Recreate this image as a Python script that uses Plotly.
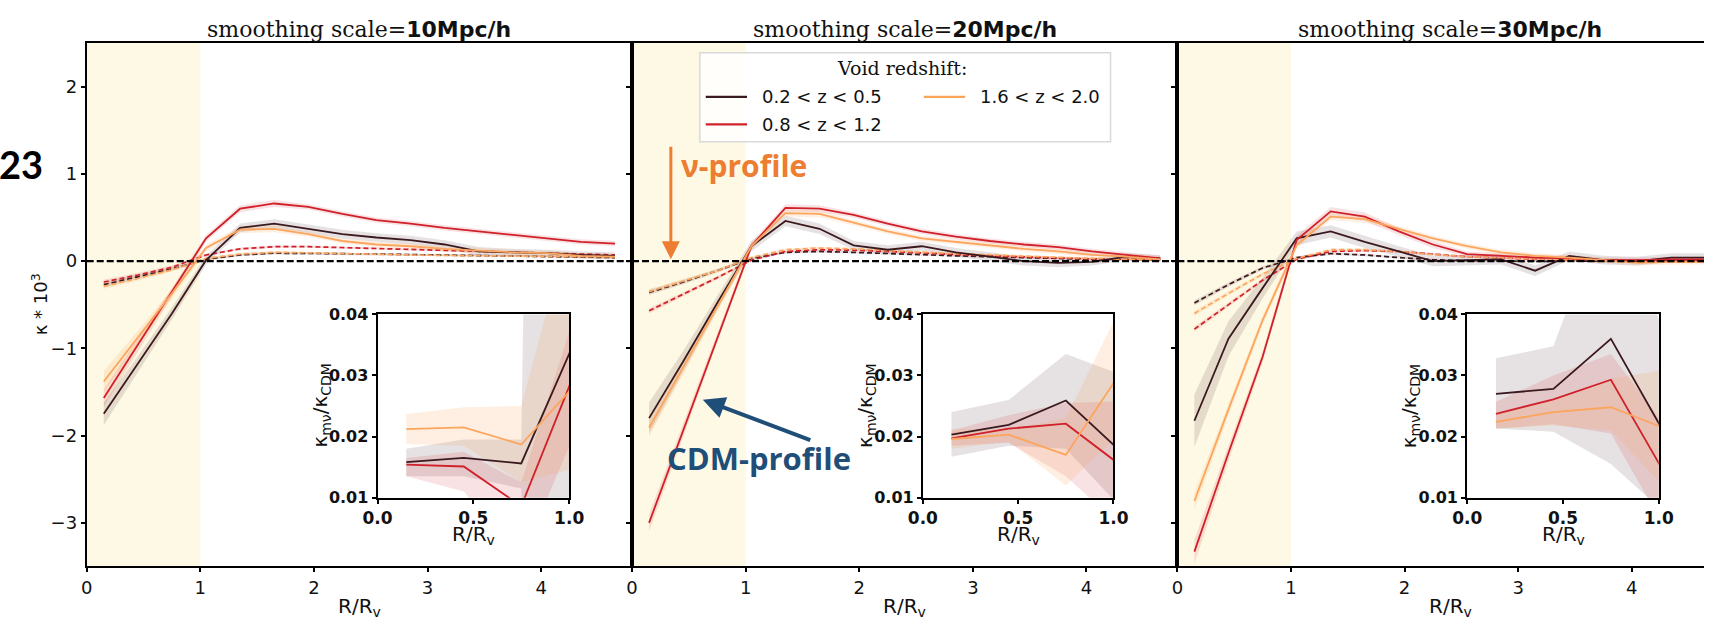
import plotly.graph_objects as go

W, H = 1719, 623

# ---------------------------------------------------------------- data
r_bins = [0.15, 0.45, 0.75, 1.05, 1.35, 1.65, 1.95, 2.25, 2.55, 2.85, 3.15, 3.45, 3.75, 4.05, 4.35, 4.65]
inset_bins = [0.15, 0.45, 0.75, 1.05]

scale_labels = ["10Mpc/h", "20Mpc/h", "30Mpc/h"]
z_labels = ["0.2 < z < 0.5", "0.8 < z < 1.2", "1.6 < z < 2.0"]
z_colors = ["#3b1a1f", "#d0202a", "#fca55d"]
z_bands = ["rgba(59,26,31,0.13)", "rgba(208,32,42,0.13)", "rgba(252,165,93,0.18)"]

# kappa * 1e3, CDM profiles (solid)
cdm_s10_z1 = [-1.75, -1.18, -0.60, 0.01, 0.38, 0.43, 0.37, 0.31, 0.27, 0.24, 0.19, 0.11, 0.10, 0.09, 0.07, 0.06]
cdm_s10_z2 = [-1.57, -0.96, -0.36, 0.26, 0.60, 0.66, 0.62, 0.54, 0.47, 0.43, 0.38, 0.34, 0.30, 0.26, 0.22, 0.20]
cdm_s10_z3 = [-1.38, -0.88, -0.37, 0.15, 0.36, 0.37, 0.31, 0.23, 0.19, 0.17, 0.14, 0.12, 0.10, 0.09, 0.06, 0.05]
cdm_s20_z1 = [-1.80, -1.15, -0.48, 0.17, 0.46, 0.37, 0.18, 0.13, 0.17, 0.10, 0.05, 0.00, -0.02, -0.01, 0.05, 0.03]
cdm_s20_z2 = [-3.00, -1.94, -0.88, 0.17, 0.61, 0.60, 0.53, 0.43, 0.34, 0.28, 0.23, 0.19, 0.16, 0.11, 0.07, 0.03]
cdm_s20_z3 = [-1.91, -1.22, -0.53, 0.17, 0.55, 0.54, 0.44, 0.34, 0.26, 0.22, 0.18, 0.14, 0.11, 0.07, 0.05, 0.02]
cdm_s30_z1 = [-1.83, -0.89, -0.31, 0.26, 0.34, 0.22, 0.11, 0.00, 0.01, 0.02, -0.11, 0.06, 0.01, 0.00, 0.04, 0.04]
cdm_s30_z2 = [-3.33, -2.20, -1.10, 0.24, 0.57, 0.51, 0.34, 0.19, 0.08, 0.06, 0.04, 0.03, 0.01, 0.01, 0.02, 0.02]
cdm_s30_z3 = [-2.75, -1.70, -0.68, 0.18, 0.51, 0.48, 0.37, 0.26, 0.17, 0.10, 0.06, 0.04, 0.01, -0.02, -0.01, -0.01]

# 1-sigma half widths of the CDM profiles
err_s10_z1 = [0.13, 0.09, 0.07, 0.05, 0.05, 0.05, 0.05, 0.05, 0.05, 0.05, 0.05, 0.05, 0.04, 0.04, 0.04, 0.04]
err_s10_z2 = [0.10, 0.07, 0.05, 0.04, 0.04, 0.04, 0.03, 0.03, 0.03, 0.03, 0.03, 0.03, 0.03, 0.03, 0.03, 0.03]
err_s10_z3 = [0.12, 0.08, 0.05, 0.04, 0.04, 0.04, 0.03, 0.03, 0.03, 0.03, 0.03, 0.03, 0.03, 0.03, 0.03, 0.03]
err_s20_z1 = [0.18, 0.12, 0.08, 0.06, 0.06, 0.06, 0.05, 0.05, 0.05, 0.05, 0.05, 0.05, 0.05, 0.04, 0.04, 0.04]
err_s20_z2 = [0.10, 0.07, 0.05, 0.04, 0.04, 0.04, 0.03, 0.03, 0.03, 0.03, 0.03, 0.03, 0.03, 0.03, 0.03, 0.03]
err_s20_z3 = [0.10, 0.07, 0.05, 0.04, 0.04, 0.04, 0.03, 0.03, 0.03, 0.03, 0.03, 0.03, 0.03, 0.03, 0.03, 0.03]
err_s30_z1 = [0.30, 0.20, 0.12, 0.08, 0.07, 0.07, 0.06, 0.06, 0.06, 0.06, 0.06, 0.05, 0.05, 0.05, 0.05, 0.05]
err_s30_z2 = [0.14, 0.09, 0.06, 0.05, 0.05, 0.05, 0.04, 0.04, 0.03, 0.03, 0.03, 0.03, 0.03, 0.03, 0.03, 0.03]
err_s30_z3 = [0.10, 0.07, 0.05, 0.04, 0.04, 0.04, 0.03, 0.03, 0.03, 0.03, 0.03, 0.03, 0.03, 0.03, 0.03, 0.03]

# kappa * 1e3, massive-neutrino profiles (dashed)
nu_s10_z1 = [-0.27, -0.18, -0.09, 0.02, 0.07, 0.09, 0.09, 0.085, 0.08, 0.075, 0.07, 0.065, 0.06, 0.055, 0.05, 0.04]
nu_s10_z2 = [-0.24, -0.16, -0.07, 0.07, 0.14, 0.165, 0.165, 0.155, 0.145, 0.13, 0.12, 0.11, 0.10, 0.09, 0.08, 0.07]
nu_s10_z3 = [-0.29, -0.20, -0.10, 0.03, 0.08, 0.10, 0.095, 0.085, 0.075, 0.07, 0.065, 0.06, 0.055, 0.05, 0.05, 0.05]
nu_s20_z1 = [-0.36, -0.24, -0.11, 0.03, 0.10, 0.11, 0.10, 0.085, 0.07, 0.06, 0.05, 0.04, 0.03, 0.02, 0.02, 0.015]
nu_s20_z2 = [-0.57, -0.38, -0.19, 0.01, 0.11, 0.13, 0.125, 0.11, 0.09, 0.075, 0.06, 0.045, 0.035, 0.025, 0.02, 0.015]
nu_s20_z3 = [-0.35, -0.23, -0.11, 0.04, 0.13, 0.15, 0.14, 0.12, 0.10, 0.085, 0.07, 0.055, 0.04, 0.03, 0.02, 0.015]
nu_s30_z1 = [-0.48, -0.27, -0.08, 0.04, 0.085, 0.07, 0.04, 0.015, 0.005, 0.0, -0.005, 0.0, 0.0, 0.0, 0.0, 0.0]
nu_s30_z2 = [-0.78, -0.50, -0.22, 0.02, 0.11, 0.12, 0.11, 0.08, 0.05, 0.035, 0.02, 0.015, 0.01, 0.005, 0.0, 0.0]
nu_s30_z3 = [-0.60, -0.37, -0.15, 0.03, 0.13, 0.13, 0.11, 0.075, 0.05, 0.035, 0.025, 0.015, 0.005, 0.0, -0.005, -0.01]
nu_err = [0.03, 0.025, 0.02, 0.015, 0.015, 0.015, 0.012, 0.012, 0.012, 0.012, 0.012, 0.012, 0.012, 0.012, 0.012, 0.012]

# ratio kappa_mnu / kappa_CDM inside the void, with lower / upper envelope
ratio_s10_z1 = [0.0158, 0.0165, 0.0156, 0.0371]
ratio_s10_z2 = [0.0154, 0.0151, 0.0086, 0.0321]
ratio_s10_z3 = [0.0212, 0.0215, 0.0187, 0.0291]
ratio_s20_z1 = [0.0203, 0.0219, 0.0259, 0.0172]
ratio_s20_z2 = [0.0197, 0.0213, 0.0221, 0.0150]
ratio_s20_z3 = [0.0196, 0.0203, 0.0170, 0.0311]
ratio_s30_z1 = [0.0270, 0.0278, 0.0360, 0.0194]
ratio_s30_z2 = [0.0237, 0.0261, 0.0293, 0.0129]
ratio_s30_z3 = [0.0224, 0.0240, 0.0248, 0.0211]

ratio_lo_s10_z1 = [0.0135, 0.0135, 0.0115, -0.50]
ratio_hi_s10_z1 = [0.0180, 0.0195, 0.0195, 0.60]
ratio_lo_s10_z2 = [0.0135, 0.0110, 0.0000, 0.0220]
ratio_hi_s10_z2 = [0.0165, 0.0175, 0.0125, 0.0420]
ratio_lo_s10_z3 = [0.0188, 0.0185, 0.0125, 0.0150]
ratio_hi_s10_z3 = [0.0237, 0.0248, 0.0250, 0.0600]
ratio_lo_s20_z1 = [0.0167, 0.0185, 0.0180, 0.0080]
ratio_hi_s20_z1 = [0.0240, 0.0260, 0.0335, 0.0300]
ratio_lo_s20_z2 = [0.0185, 0.0190, 0.0135, 0.0050]
ratio_hi_s20_z2 = [0.0210, 0.0235, 0.0255, 0.0258]
ratio_lo_s20_z3 = [0.0180, 0.0192, 0.0120, 0.0210]
ratio_hi_s20_z3 = [0.0212, 0.0212, 0.0230, 0.0420]
ratio_lo_s30_z1 = [0.0213, 0.0208, 0.0155, 0.0070]
ratio_hi_s30_z1 = [0.0328, 0.0348, 0.0600, 0.0350]
ratio_lo_s30_z2 = [0.0213, 0.0220, 0.0205, 0.0040]
ratio_hi_s30_z2 = [0.0257, 0.0300, 0.0335, 0.0210]
ratio_lo_s30_z3 = [0.0213, 0.0218, 0.0210, 0.0110]
ratio_hi_s30_z3 = [0.0236, 0.0260, 0.0295, 0.0310]

main_xticks = [0, 1, 2, 3, 4]
main_yticks = [-3, -2, -1, 0, 1, 2]
inset_xticks = [0.0, 0.5, 1.0]
inset_yticks = [0.01, 0.02, 0.03, 0.04]

cdm = [[cdm_s10_z1, cdm_s10_z2, cdm_s10_z3],
       [cdm_s20_z1, cdm_s20_z2, cdm_s20_z3],
       [cdm_s30_z1, cdm_s30_z2, cdm_s30_z3]]
cdm_err = [[err_s10_z1, err_s10_z2, err_s10_z3],
           [err_s20_z1, err_s20_z2, err_s20_z3],
           [err_s30_z1, err_s30_z2, err_s30_z3]]
nu = [[nu_s10_z1, nu_s10_z2, nu_s10_z3],
      [nu_s20_z1, nu_s20_z2, nu_s20_z3],
      [nu_s30_z1, nu_s30_z2, nu_s30_z3]]
ratio = [[ratio_s10_z1, ratio_s10_z2, ratio_s10_z3],
         [ratio_s20_z1, ratio_s20_z2, ratio_s20_z3],
         [ratio_s30_z1, ratio_s30_z2, ratio_s30_z3]]
ratio_lo = [[ratio_lo_s10_z1, ratio_lo_s10_z2, ratio_lo_s10_z3],
            [ratio_lo_s20_z1, ratio_lo_s20_z2, ratio_lo_s20_z3],
            [ratio_lo_s30_z1, ratio_lo_s30_z2, ratio_lo_s30_z3]]
ratio_hi = [[ratio_hi_s10_z1, ratio_hi_s10_z2, ratio_hi_s10_z3],
            [ratio_hi_s20_z1, ratio_hi_s20_z2, ratio_hi_s20_z3],
            [ratio_hi_s30_z1, ratio_hi_s30_z2, ratio_hi_s30_z3]]

# ---------------------------------------------------------------- style
SANS = "DejaVu Sans, sans-serif"
SERIF = "DejaVu Serif, serif"
CALLOUT = "Open Sans, Lato, sans-serif"
INK = "#111111"


def px(x):
    return x / W


def py(y):
    return 1 - y / H


# panel frames in pixels: (left, right); x unit is 115.6 px
main_px = [(73, 628), (628, 1183), (1183, 1719)]
main_xmax = [4.8, 4.8, (1719 - 1183) / 115.6]
main_top, main_bottom = 35, 575
inset_px = [(369, 564), (924, 1118), (1478, 1673)]
inset_top, inset_bottom = 315, 504

fig = go.Figure()


def band(xs, lo, hi):
    return xs + xs[::-1], hi + lo[::-1]


for p in range(3):
    xa = "x" if p == 0 else f"x{p + 1}"
    ya = "y" if p == 0 else f"y{p + 1}"
    # neutrino bands + dashed profiles
    for k in range(3):
        v = nu[p][k]
        bx, by = band(r_bins, [a - e for a, e in zip(v, nu_err)], [a + e for a, e in zip(v, nu_err)])
        fig.add_trace(go.Scatter(x=bx, y=by, xaxis=xa, yaxis=ya, fill="toself", mode="lines",
                                 line=dict(width=0), fillcolor=z_bands[k], hoverinfo="skip"))
    for k in range(3):
        v = cdm[p][k]
        e = cdm_err[p][k]
        bx, by = band(r_bins, [a - b for a, b in zip(v, e)], [a + b for a, b in zip(v, e)])
        fig.add_trace(go.Scatter(x=bx, y=by, xaxis=xa, yaxis=ya, fill="toself", mode="lines",
                                 line=dict(width=0), fillcolor=z_bands[k], hoverinfo="skip"))
    for k in range(3):
        fig.add_trace(go.Scatter(x=r_bins, y=nu[p][k], xaxis=xa, yaxis=ya, mode="lines",
                                 line=dict(color=z_colors[k], width=1.7, dash="5px,3px"),
                                 name=z_labels[k]))
    for k in range(3):
        fig.add_trace(go.Scatter(x=r_bins, y=cdm[p][k], xaxis=xa, yaxis=ya, mode="lines",
                                 line=dict(color=z_colors[k], width=1.8), name=z_labels[k]))

    # insets
    xi = f"x{p + 4}"
    yi = f"y{p + 4}"
    for k in range(3):
        bx, by = band(inset_bins, ratio_lo[p][k], ratio_hi[p][k])
        fig.add_trace(go.Scatter(x=bx, y=by, xaxis=xi, yaxis=yi, fill="toself", mode="lines",
                                 line=dict(width=0), fillcolor=z_bands[k], hoverinfo="skip"))
    for k in range(3):
        fig.add_trace(go.Scatter(x=inset_bins, y=ratio[p][k], xaxis=xi, yaxis=yi, mode="lines",
                                 line=dict(color=z_colors[k], width=1.8), name=z_labels[k]))

axis_common = dict(showline=True, linecolor="black", linewidth=2, ticks="outside", ticklen=4,
                   tickwidth=1.5, tickcolor="black", showgrid=False, zeroline=False,
                   tickfont=dict(family=SANS, size=18, color=INK))

layout = dict(width=W, height=H, margin=dict(l=0, r=0, t=0, b=0),
              paper_bgcolor="white", plot_bgcolor="rgba(0,0,0,0)", showlegend=False)

shapes = []
annotations = []
for p in range(3):
    sx = "" if p == 0 else str(p + 1)
    l, r = main_px[p]
    layout[f"xaxis{sx}"] = dict(axis_common, domain=[px(l), px(r)], range=[0, main_xmax[p]],
                                tickvals=main_xticks, anchor=f"y{sx}", mirror=True)
    layout[f"yaxis{sx}"] = dict(axis_common, domain=[py(main_bottom), py(main_top)], range=[-3.5, 2.5],
                                tickvals=main_yticks, anchor=f"x{sx}", mirror=(p < 2),
                                showticklabels=(p == 0))
    # inner void region
    shapes.append(dict(type="rect", xref=f"x{sx}", yref=f"y{sx} domain", x0=0, x1=1, y0=0, y1=1,
                       fillcolor="#fef9e4", line=dict(width=0), layer="below"))
    # zero level
    shapes.append(dict(type="line", xref=f"x{sx} domain", yref=f"y{sx}", x0=0, x1=1, y0=0, y1=0,
                       line=dict(color="black", width=2.2, dash="7px,3px"), layer="above"))
    # panel title
    cx = (l + l + 555) / 2
    annotations.append(dict(
        text=f"smoothing scale=<span style='font-family:{SANS};font-weight:bold'>{scale_labels[p]}</span>",
        x=px(cx), y=py(21), xref="paper", yref="paper", showarrow=False,
        xanchor="center", yanchor="middle", font=dict(family=SERIF, size=22, color=INK)))
    annotations.append(dict(text="R/R<sub>v</sub>", x=px(cx), y=py(617), xref="paper", yref="paper",
                            showarrow=False, xanchor="center", yanchor="middle",
                            font=dict(family=SANS, size=20, color=INK)))

    # inset axes
    si = str(p + 4)
    il, ir = inset_px[p]
    layout[f"xaxis{si}"] = dict(axis_common, domain=[px(il), px(ir)], range=[0, 1], tickvals=inset_xticks,
                                tickformat=".1f", anchor=f"y{si}", mirror=True,
                                tickfont=dict(family=SANS, size=17, color=INK, weight="bold"))
    layout[f"yaxis{si}"] = dict(axis_common, domain=[py(inset_bottom), py(inset_top)], range=[0.01, 0.04],
                                tickvals=inset_yticks, tickformat=".2f", anchor=f"x{si}", mirror=True,
                                tickfont=dict(family=SANS, size=16, color=INK, weight="bold"))
    shapes.append(dict(type="rect", xref=f"x{si} domain", yref=f"y{si} domain", x0=0, x1=1, y0=0, y1=1,
                       fillcolor="white", line=dict(width=0), layer="below"))
    annotations.append(dict(text="R/R<sub>v</sub>", x=px((il + ir) / 2), y=py(543), xref="paper",
                            yref="paper", showarrow=False, xanchor="center", yanchor="middle",
                            font=dict(family=SANS, size=20, color=INK)))
    annotations.append(dict(text="κ<sub>mν</sub>/κ<sub>CDM</sub>", x=px(il - 58),
                            y=py((inset_top + inset_bottom) / 2), xref="paper", yref="paper",
                            showarrow=False, textangle=-90, xanchor="center", yanchor="middle",
                            font=dict(family=SANS, size=20, color=INK)))

# legend box for the redshift bins
leg_l, leg_r, leg_t, leg_b = 697, 1115, 45, 137
shapes.append(dict(type="rect", xref="paper", yref="paper", x0=px(leg_l), x1=px(leg_r),
                   y0=py(leg_b), y1=py(leg_t), fillcolor="rgba(255,255,255,0.85)",
                   line=dict(color="#d9d9d9", width=1.5), layer="above"))
annotations.append(dict(text="Void redshift:", x=px((leg_l + leg_r) / 2 - 3), y=py(61), xref="paper",
                        yref="paper", showarrow=False, xanchor="center", yanchor="middle",
                        font=dict(family=SERIF, size=19, color=INK)))
legend_slots = [(703, 90.7), (703, 119), (925, 90.7)]
for k, (lx, ly) in enumerate(legend_slots):
    shapes.append(dict(type="line", xref="paper", yref="paper", x0=px(lx), x1=px(lx + 42),
                       y0=py(ly), y1=py(ly), line=dict(color=z_colors[k], width=2.2), layer="above"))
    annotations.append(dict(text=z_labels[k], x=px(lx + 55), y=py(ly), xref="paper", yref="paper",
                            showarrow=False, xanchor="left", yanchor="middle",
                            font=dict(family=SANS, size=18, color=INK)))

layout["shapes"] = shapes

annotations += [
    dict(text="κ * 10<sup>3</sup>", x=px(25), y=py(305), xref="paper", yref="paper", showarrow=False,
         textangle=-90, xanchor="center", yanchor="middle", font=dict(family=SANS, size=18, color=INK)),
    dict(text="<b>23</b>", x=px(31), y=py(160), xref="paper", yref="paper", showarrow=False,
         xanchor="right", yanchor="middle", font=dict(family="Lato, sans-serif", size=38, color="black")),
    # nu-profile callout
    dict(text="<b>ν-profile</b>", x=px(676), y=py(161), xref="paper", yref="paper", showarrow=False,
         xanchor="left", yanchor="middle", font=dict(family=CALLOUT, size=30, color="#ed7d31")),
    dict(text="", x=px(667.5), y=py(258), ax=0, ay=-114, xref="paper", yref="paper",
         axref="pixel", ayref="pixel", showarrow=True, arrowhead=2, arrowsize=1.2, arrowwidth=3,
         arrowcolor="#ed7d31"),
    # CDM-profile callout
    dict(text="<b>CDM-profile</b>", x=px(662), y=py(463), xref="paper", yref="paper", showarrow=False,
         xanchor="left", yanchor="middle", font=dict(family=CALLOUT, size=31, color="#1f4e79")),
    dict(text="", x=px(700), y=py(403), ax=109, ay=41, xref="paper", yref="paper",
         axref="pixel", ayref="pixel", showarrow=True, arrowhead=2, arrowsize=1.1, arrowwidth=4,
         arrowcolor="#1f4e79"),
]
layout["annotations"] = annotations

fig.update_layout(**layout)
fig.write_html("out.html")
